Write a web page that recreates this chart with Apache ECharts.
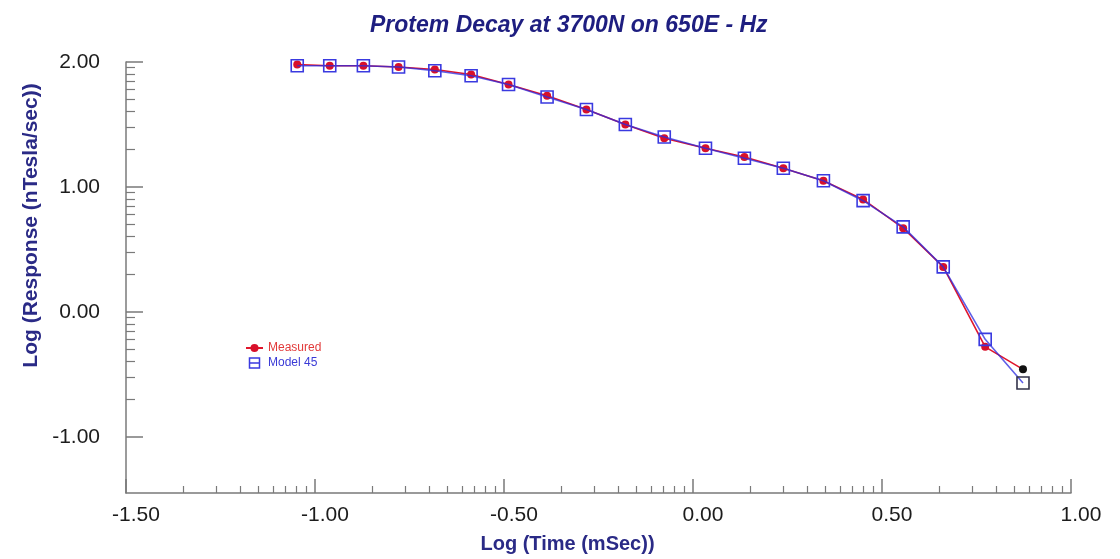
<!DOCTYPE html>
<html>
<head>
<meta charset="utf-8">
<title>Protem Decay at 3700N on 650E - Hz</title>
<script src="https://cdn.jsdelivr.net/npm/echarts@6/dist/echarts.min.js"></script>
<style>
  html, body { margin: 0; padding: 0; background: #fff; }
  #chart { width: 1120px; height: 559px; }
</style>
</head>
<body>
<div id="chart"></div>
<script>
// Log time gates (mSec, log10)
const logTime = [-1.047, -0.961, -0.872, -0.779, -0.683, -0.587, -0.488, -0.386, -0.282, -0.179,
                 -0.076, 0.033, 0.136, 0.239, 0.345, 0.450, 0.556, 0.662, 0.773, 0.873];
// Log response (nTesla/sec), measured decay
const measured = [1.98, 1.97, 1.97, 1.96, 1.94, 1.90, 1.82, 1.73, 1.62, 1.50,
                  1.39, 1.31, 1.24, 1.15, 1.05, 0.90, 0.67, 0.36, -0.28, -0.46];
// Log response for layered model 45
const model45 = [1.97, 1.97, 1.97, 1.96, 1.93, 1.89, 1.82, 1.72, 1.62, 1.50,
                 1.40, 1.31, 1.23, 1.15, 1.05, 0.89, 0.68, 0.36, -0.22, -0.57];

// Axis ticks and labels
const xMajorTicks = [-1.5, -1.0, -0.5, 0.0, 0.5, 1.0];
const yMajorTicks = [-1, 0, 1, 2];
const xRange = [-1.5, 1.0];
const yRange = [-1.45, 2.0];

// Log-cycle minor ticks inside each major interval
const logSteps = [2, 3, 4, 5, 6, 7, 8, 9].map(k => Math.log10(k));
const xMinorTicks = [];
for (let i = 0; i < xMajorTicks.length - 1; i++) {
  const span = xMajorTicks[i + 1] - xMajorTicks[i];
  logSteps.forEach(s => xMinorTicks.push(+(xMajorTicks[i] + span * s).toFixed(4)));
}
const yMinorTicks = [];
for (let i = 0; i < yMajorTicks.length - 1; i++) {
  logSteps.forEach(s => yMinorTicks.push(+(yMajorTicks[i] + s).toFixed(4)));
}

const pairs = ys => logTime.map((x, i) => [x, ys[i]]);
const lastPoint = (arr, style) => arr.map((p, i) =>
  i === arr.length - 1 ? { value: p, itemStyle: style } : p);

const axisGray = '#7a7a7a';
const titleBlue = '#2a2a86';
const font = 'Liberation Sans, Arial, sans-serif';

const chart = echarts.init(document.getElementById('chart'), null, { renderer: 'canvas' });
chart.setOption({
  animation: false,
  backgroundColor: '#ffffff',
  title: {
    text: 'Protem Decay at 3700N on 650E - Hz',
    left: 365,
    top: 9,
    textStyle: { fontFamily: font, fontSize: 23, fontWeight: 'bold', fontStyle: 'italic', color: '#1e1e80' }
  },
  legend: {
    orient: 'vertical',
    left: 240,
    top: 337,
    itemGap: 3,
    itemWidth: 17,
    itemHeight: 10,
    data: [
      { name: 'Measured', textStyle: { color: '#e23a3a' } },
      {
        name: 'Model 45', icon: 'path://M0,0H10V10H0ZM0,5H10',
        itemStyle: { color: 'rgba(0,0,0,0)', borderColor: '#3a3ae0', borderWidth: 1.5 },
        textStyle: { color: '#3a3ad6' }
      }
    ],
    textStyle: { fontFamily: font, fontSize: 12 }
  },
  grid: { left: 126, right: 49, top: 62, bottom: 56, containLabel: false },
  xAxis: [
    {
      type: 'value', min: xRange[0], max: xRange[1],
      name: 'Log (Time (mSec))', nameLocation: 'middle', nameGap: 41,
      nameTextStyle: { fontFamily: font, fontSize: 20, fontWeight: 'bold', color: titleBlue, padding: [0, 62, 0, 0] },
      axisLine: { show: true, onZero: false, lineStyle: { color: axisGray, width: 1.5 } },
      axisTick: { show: true, inside: true, length: 14, customValues: xMajorTicks, lineStyle: { color: axisGray, width: 1.5 } },
      axisLabel: {
        show: true, customValues: xMajorTicks, margin: 12,
        fontFamily: font, fontSize: 21, color: '#1c1c1c', padding: [0, 0, 0, 20],
        formatter: v => v.toFixed(2)
      },
      splitLine: { show: false }
    },
    {
      type: 'value', min: xRange[0], max: xRange[1], position: 'bottom',
      axisLine: { show: false, onZero: false },
      axisTick: { show: true, inside: true, length: 7, customValues: xMinorTicks, lineStyle: { color: axisGray, width: 1.2 } },
      axisLabel: { show: false },
      splitLine: { show: false }
    }
  ],
  yAxis: [
    {
      type: 'value', min: yRange[0], max: yRange[1],
      name: 'Log (Response (nTesla/sec))', nameLocation: 'middle', nameGap: 70,
      nameTextStyle: { fontFamily: font, fontSize: 21, fontWeight: 'bold', color: titleBlue, padding: [0, 0, 0, 104] },
      axisLine: { show: true, onZero: false, lineStyle: { color: axisGray, width: 1.5 } },
      axisTick: { show: true, inside: true, length: 17, customValues: yMajorTicks, lineStyle: { color: axisGray, width: 1.5 } },
      axisLabel: {
        show: true, customValues: yMajorTicks, margin: 26,
        fontFamily: font, fontSize: 21, color: '#1c1c1c', lineHeight: 29, padding: [8, 0, 0, 0],
        formatter: v => v.toFixed(2)
      },
      splitLine: { show: false }
    },
    {
      type: 'value', min: yRange[0], max: yRange[1], position: 'left',
      axisLine: { show: false, onZero: false },
      axisTick: { show: true, inside: true, length: 9, customValues: yMinorTicks, lineStyle: { color: axisGray, width: 1.2 } },
      axisLabel: { show: false },
      splitLine: { show: false }
    }
  ],
  series: [
    {
      name: 'Measured',
      type: 'line',
      data: lastPoint(pairs(measured), { color: '#111111' }),
      symbol: 'circle',
      symbolSize: 8,
      showAllSymbol: true,
      lineStyle: { color: '#e0162c', width: 1.6 },
      itemStyle: { color: '#d8102a' },
      z: 2
    },
    {
      name: 'Model 45',
      type: 'line',
      data: lastPoint(pairs(model45), { borderColor: '#33334a' }),
      symbol: 'rect',
      symbolSize: 12,
      showAllSymbol: true,
      lineStyle: { color: '#2a2ae0', width: 1.6, opacity: 0.75 },
      itemStyle: { color: 'rgba(0,0,0,0)', borderColor: '#3a3ae0', borderWidth: 1.6 },
      z: 3
    }
  ]
});
</script>
</body>
</html>
